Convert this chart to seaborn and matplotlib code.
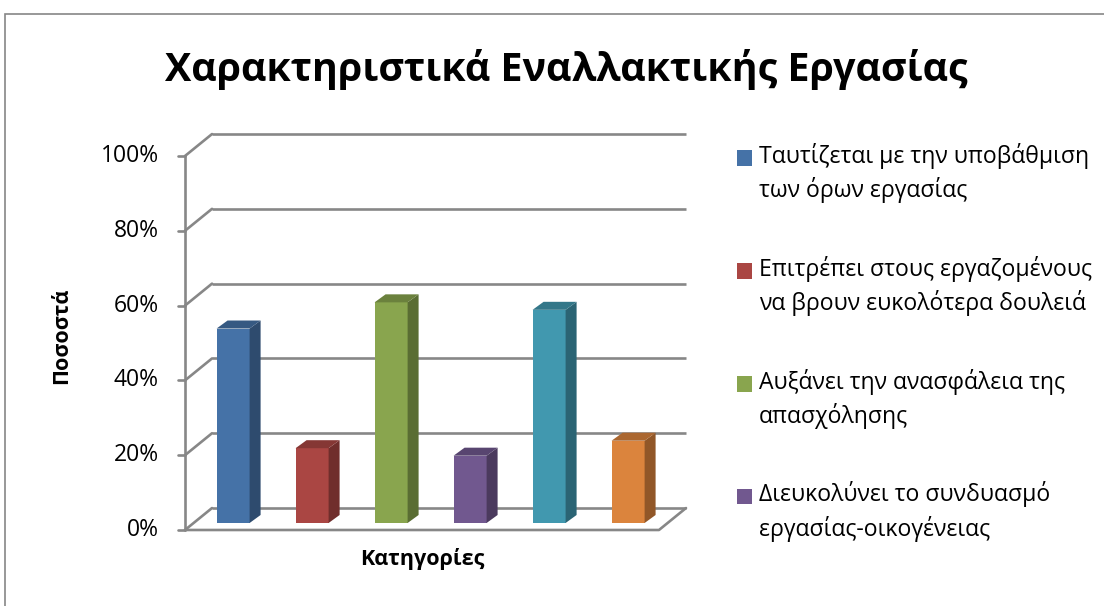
import numpy as np
import pandas as pd
import matplotlib
matplotlib.use("Agg")
import matplotlib.pyplot as plt
import seaborn as sns
from matplotlib.patches import Polygon, Rectangle, Patch
from matplotlib.legend_handler import HandlerPatch
from matplotlib.colors import to_rgb

# ---- data -------------------------------------------------------------
categories = [
    "Ταυτίζεται με την υποβάθμιση\nτων όρων εργασίας",
    "Επιτρέπει στους εργαζομένους\nνα βρουν ευκολότερα δουλειά",
    "Αυξάνει την ανασφάλεια της\nαπασχόλησης",
    "Διευκολύνει το συνδυασμό\nεργασίας-οικογένειας",
    "Κατηγορία 5",
    "Κατηγορία 6",
]
values = [52, 20, 59, 18, 57, 22]
y_ticks = [0, 20, 40, 60, 80, 100]
legend_entries = 4  # the legend box only has room for the first four

title = "Χαρακτηριστικά Εναλλακτικής Εργασίας"
x_label = "Κατηγορίες"
y_label = "Ποσοστά"

colors = ["#4572A7", "#AA4643", "#89A54E", "#71588F", "#4198AF", "#DB843D"]

# ---- style ------------------------------------------------------------
sns.set_style("white")
plt.rcParams["font.family"] = ["Open Sans", "DejaVu Sans"]
plt.rcParams["text.color"] = "black"
plt.rcParams["axes.labelcolor"] = "black"
GRID = "#878787"

# pseudo-3D depth offsets (data units) relative to the plane of the bar fronts
FRONT = (-0.109, -1.87)  # front edge of floor / value axis
BACK = (0.233, 4.0)      # back wall
BAR_D = (0.139, 2.14)    # depth of each bar

W, H = 1104, 606
fig = plt.figure(figsize=(W / 100, H / 100), dpi=100)
ax = fig.add_axes([193.6 / W, 83 / H, 474 / W, 374 / H])

df = pd.DataFrame({"cat": categories, "val": values})
sns.barplot(data=df, x="cat", y="val", hue="cat", order=categories,
            hue_order=categories, palette=colors, width=0.418,
            saturation=1, legend=False, linewidth=0, ax=ax, zorder=3)

ax.set_xlim(-0.5, 5.5)
ax.set_ylim(0, 100)
x_lo, x_hi = ax.get_xlim()


def shade(c, f):
    r, g, b = to_rgb(c)
    return (r * f, g * f, b * f)


# side and top faces of every bar
for bar, c in zip(ax.patches, colors):
    x0 = bar.get_x()
    x1 = x0 + bar.get_width()
    h = bar.get_height()
    dx, dy = BAR_D
    side = Polygon([(x1, 0), (x1 + dx, dy), (x1 + dx, h + dy), (x1, h)],
                   closed=True, facecolor=shade(c, 0.66), edgecolor="none",
                   zorder=3, clip_on=False)
    top = Polygon([(x0, h), (x0 + dx, h + dy), (x1 + dx, h + dy), (x1, h)],
                  closed=True, facecolor=shade(c, 0.78), edgecolor="none",
                  zorder=3, clip_on=False)
    ax.add_patch(side)
    ax.add_patch(top)

# back wall gridlines, wall diagonals, value axis ticks and labels
lw = 1.9
for v in y_ticks:
    ax.plot([x_lo + BACK[0], x_hi + BACK[0]], [v + BACK[1]] * 2,
            color=GRID, lw=lw, clip_on=False, zorder=1, solid_capstyle="butt")
    ax.plot([x_lo + FRONT[0], x_lo + BACK[0]], [v + FRONT[1], v + BACK[1]],
            color=GRID, lw=lw, clip_on=False, zorder=1)
    ax.plot([x_lo + FRONT[0] - 0.09, x_lo + FRONT[0]], [v + FRONT[1]] * 2,
            color=GRID, lw=lw, clip_on=False, zorder=1)
    ax.text(x_lo + FRONT[0] - 0.33, v + FRONT[1], f"{v}%", ha="right",
            va="center", fontsize=16.5, color="black")

# value axis line
ax.plot([x_lo + FRONT[0]] * 2, [y_ticks[0] + FRONT[1], y_ticks[-1] + FRONT[1]],
        color=GRID, lw=lw, clip_on=False, zorder=1)
# floor front and right edges
ax.plot([x_lo + FRONT[0], x_hi + FRONT[0], x_hi + BACK[0]],
        [FRONT[1], FRONT[1], BACK[1]],
        color=GRID, lw=lw, clip_on=False, zorder=4)

# axes decorations
ax.tick_params(left=False, bottom=False, labelleft=False, labelbottom=False)
sns.despine(ax=ax, left=True, bottom=True)
ax.grid(False)
ax.set_facecolor("none")
ax.set_xlabel(x_label, fontsize=15.5, fontweight="bold")
ax.set_ylabel(y_label, fontsize=15.5, fontweight="bold")
ax.xaxis.set_label_coords((422 - 193.6) / 474, -0.068)
ax.yaxis.set_label_coords((72 - 193.6) / 474, 0.5)

fig.text(566 / W, 1 - 70 / H, title, ha="center", va="center",
         fontsize=28.4, fontweight="bold")

LEG_FS = 16.6
LINE_GAP = 1.41


def first_line_square(legend, orig_handle, xdescent, ydescent, width, height,
                      fontsize):
    # lift the key so it sits beside the first line of a two-line label
    lift = 0.5 * LINE_GAP * fontsize * 0.97
    return Rectangle((-xdescent, -ydescent + lift), width, height)


handles = [Patch(facecolor=c, edgecolor="none") for c in colors[:legend_entries]]
leg = fig.legend(handles, categories[:legend_entries], loc="upper left",
                 bbox_to_anchor=(737 / W, 1 - 143 / H), frameon=False,
                 fontsize=LEG_FS, handlelength=0.66, handleheight=0.66,
                 handletextpad=0.3, labelspacing=2.28, borderaxespad=0,
                 borderpad=0,
                 handler_map={Patch: HandlerPatch(patch_func=first_line_square)})
for t in leg.get_texts():
    t.set_linespacing(LINE_GAP)

# chart frame
fig.patches.append(Rectangle((4.5 / W, -0.1), 1.2, 1.1 - 14 / H,
                             transform=fig.transFigure, fill=False,
                             edgecolor="#868686", lw=1.2))

fig.savefig("out.png", dpi=100)
